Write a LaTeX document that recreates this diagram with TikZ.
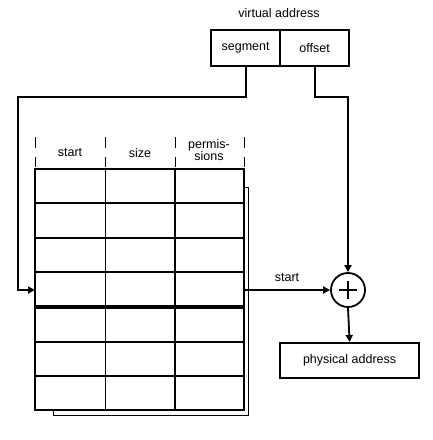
\documentclass[tikz,border=0pt]{standalone}
\usepackage{fontspec}
\setmainfont{Liberation Sans}
\usetikzlibrary{arrows.meta}
\begin{document}
\begin{tikzpicture}[x=1pt,y=-1pt,
  thick line/.style={line width=2.2pt},
  thin line/.style={line width=1pt},
  conn/.style={line width=1.8pt},
  arr/.style={conn,-{Triangle[length=7pt,width=7pt]}},
  lbl/.style={inner sep=0pt,font=\fontsize{12.5}{13}\selectfont},
  field/.style={draw,line width=2.2pt,minimum width=69pt,minimum height=36pt,inner sep=0pt,font=\fontsize{12.5}{13}\selectfont}]
\useasboundingbox (0,0) rectangle (433,440);
% virtual address
\node[lbl] (va) at (279,13) {virtual address};
\node[field,anchor=north west] (seg) at (210,29) {segment};
\node[field,anchor=north west] (off) at (279,29) {offset};
% table shadow
\draw[thin line] (53,187) rectangle (248,415);
\fill[white] (35,169) rectangle (244,410);
% table
\coordinate (tl) at (35,169);
\coordinate (br) at (244,410);
\foreach \y in {203,238,272,342,376} \draw[thick line] (35,\y) -- (244,\y);
\draw[line width=3.2pt] (35,307) -- (244,307);
\draw[thin line] (105,169) -- (105,410);
\draw[thick line] (175,169) -- (175,410);
\draw[line width=2.7pt] (tl) rectangle (br);
% header
\foreach \x in {35,105,175,244} {\draw[thin line] (\x,137) -- (\x,148); \draw[thin line] (\x,157) -- (\x,167);}
\node[lbl] (hstart) at (70,153) {start};
\node[lbl] (hsize) at (140,153) {size};
\node[lbl,align=center,font=\fontsize{12.5}{11}\selectfont] (hperm) at (209,150) {permis-\\sions};
% row entry point
\coordinate (rowin) at (35,290);
\coordinate (rowout) at (244,290);
% adder
\node[draw,circle,line width=1.8pt,minimum size=34pt,inner sep=0pt] (add) at (348,290) {};
\draw[line width=1.8pt] (339,290) -- (357,290) (348,281) -- (348,299);
% physical address
\node[draw,line width=2.2pt,minimum width=139pt,minimum height=35pt,inner sep=0pt,anchor=north west,font=\fontsize{12.5}{13}\selectfont] (pa) at (279,342) {physical address};
% connectors
\draw[arr] (seg.south) |- (18,97) |- (rowin);
\draw[arr] (off.south) |- (348,97) -- (add.north);
\draw[arr] (rowout) -- node[lbl,above=7pt] (lstart) {start} (add.west);
\draw[arr] (add.south) -- (pa.north);
\end{tikzpicture}
\end{document}
